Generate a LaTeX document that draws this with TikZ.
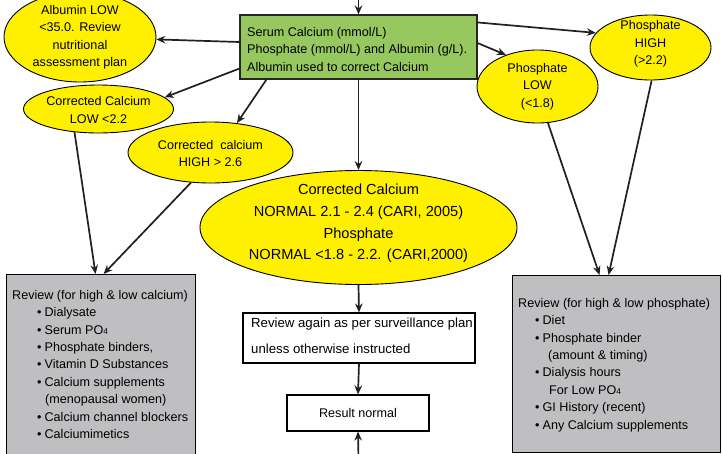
\documentclass[tikz,border=0pt]{standalone}
\usepackage{fontspec}
\setmainfont{Liberation Sans}
\usetikzlibrary{shapes.geometric,arrows.meta,calc}

\definecolor{ellyellow}{RGB}{255,240,0}
\definecolor{boxgreen}{RGB}{150,200,95}
\definecolor{boxgrey}{RGB}{191,191,193}
\definecolor{linecol}{RGB}{35,31,32}

\newcommand{\subfour}{\raisebox{-0.5pt}{\fontsize{8.5}{8.5}\selectfont 4}}

\begin{document}
\begin{tikzpicture}[x=1pt,y=-1pt,
  ell/.style={ellipse, draw=black, line width=0.9pt, fill=ellyellow, inner sep=0pt},
  lbl/.style={font=\fontsize{12.6}{17.5}\selectfont, align=center, inner sep=0pt},
  bigl/.style={font=\fontsize{14.6}{21.7}\selectfont, align=center, inner sep=0pt},
  listl/.style={font=\fontsize{12.6}{17.4}\selectfont, align=left, inner sep=0pt, anchor=north west},
  plainbox/.style={draw=black, line width=1.1pt, fill=white},
  greybox/.style={draw=black, line width=1.1pt, fill=boxgrey},
  conn/.style={-{Stealth[length=9pt,width=7.5pt]}, line width=1.7pt, draw=linecol}]
\useasboundingbox (0,0) rectangle (722,453);

% free ends of the vertical lines entering from the page edges
\coordinate (topin) at (358.5,-6);
\coordinate (botin) at (358.5,460);

% measurement box
\node[draw=black!85, line width=1.1pt, fill=boxgreen, minimum width=237pt, minimum height=64pt] (green) at (358.5,47) {};
\node[lbl, align=left, anchor=west] at (247,49) {Serum Calcium (mmol/L)\\Phosphate (mmol/L) and Albumin (g/L).\\Albumin used to correct Calcium};

% outcome ellipses
\node[ell, minimum width=152pt, minimum height=90pt] (alb) at (80,37) {};
\node[lbl] at (alb) {Albumin LOW\\<35.0. Review\\nutritional\\assessment plan};

\node[ell, minimum width=150pt, minimum height=48pt] (calow) at (98.5,109) {};
\node[lbl] at ($(calow)+(0,1)$) {Corrected Calcium\\LOW <2.2};

\node[ell, minimum width=165pt, minimum height=61pt] (cahigh) at (210.5,152.5) {};
\node[lbl] at ($(cahigh)+(0,1)$) {Corrected\ \ calcium\\HIGH > 2.6};

\node[ell, minimum width=317pt, minimum height=114pt] (mid) at (358.5,227.5) {};
\node[bigl] at ($(mid)+(0,-4)$) {Corrected Calcium\\NORMAL 2.1 - 2.4 (CARI, 2005)\\Phosphate\\NORMAL <1.8 - 2.2. (CARI,2000)};

\node[ell, minimum width=121pt, minimum height=73pt] (plow) at (537.5,86.5) {};
\node[lbl] at (plow) {Phosphate\\LOW\\(<1.8)};

\node[ell, minimum width=121pt, minimum height=65pt] (phigh) at (650.5,47.5) {};
\node[lbl] at ($(phigh)+(0,-3.5)$) {Phosphate\\HIGH\\(>2.2)};

% review boxes
\node[greybox, minimum width=189pt, minimum height=190pt, anchor=north west] (lbox) at (6,274) {};
\node[listl] at (12,290) {Review (for high \& low calcium)\\
\hspace*{25pt}\textbullet\hspace{3pt}Dialysate\\
\hspace*{25pt}\textbullet\hspace{3pt}Serum PO\subfour\\
\hspace*{25pt}\textbullet\hspace{3pt}Phosphate binders,\\
\hspace*{25pt}\textbullet\hspace{3pt}Vitamin D Substances\\
\hspace*{25pt}\textbullet\hspace{3pt}Calcium supplements\\
\hspace*{33pt}(menopausal women)\\
\hspace*{25pt}\textbullet\hspace{3pt}Calcium channel blockers\\
\hspace*{25pt}\textbullet\hspace{3pt}Calciumimetics};

\node[greybox, minimum width=208pt, minimum height=177pt, anchor=north west] (rbox) at (512,275) {};
\node[listl] at (518,298) {Review (for high \& low phosphate)\\
\hspace*{17pt}\textbullet\hspace{3pt}Diet\\
\hspace*{17pt}\textbullet\hspace{3pt}Phosphate binder\\
\hspace*{30pt}(amount \& timing)\\
\hspace*{17pt}\textbullet\hspace{3pt}Dialysis hours\\
\hspace*{31pt}For Low PO\subfour\\
\hspace*{17pt}\textbullet\hspace{3pt}GI History (recent)\\
\hspace*{17pt}\textbullet\hspace{3pt}Any Calcium supplements};

\node[plainbox, minimum width=232pt, minimum height=50pt] (again) at (359,338) {};
\node[font=\fontsize{13.2}{26.5}\selectfont, align=left, inner sep=0pt, anchor=west] at (251,336) {Review again as per surveillance plan\\unless otherwise instructed};

\node[plainbox, minimum width=142pt, minimum height=36pt, font=\fontsize{12.6}{15}\selectfont] (normal) at (358,413) {Result normal};

% connectors
\draw[conn] (topin) -- (green.north);
\draw[conn] ($(green.west)+(0,-5)$) -- (alb);
\draw[conn] ($(green.south west)+(0,-11)$) -- (calow.10);
\draw[conn] ($(green.south west)+(27,0)$) -- (cahigh.48);
\draw[conn] (green.south) -- (mid.north);
\draw[conn] ($(green.north east)+(0,8)$) -- (phigh.165);
\draw[conn] ($(green.east)+(0,-4)$) -- (plow.135);
\draw[conn] (calow.224) -- ($(lbox.north)+(-5.5,0)$);
\draw[conn] (cahigh.237) -- ($(lbox.north)+(2.5,0)$);
\draw[conn] (plow.286) -- ($(rbox.north)+(-17,0)$);
\draw[conn] (phigh.272) -- ($(rbox.north)+(-8,0)$);
\draw[conn] (mid.south) -- (again.north);
\draw[conn] (again.south) -- (normal.north);
\draw[conn] (botin) -- (normal.south);
\end{tikzpicture}
\end{document}
